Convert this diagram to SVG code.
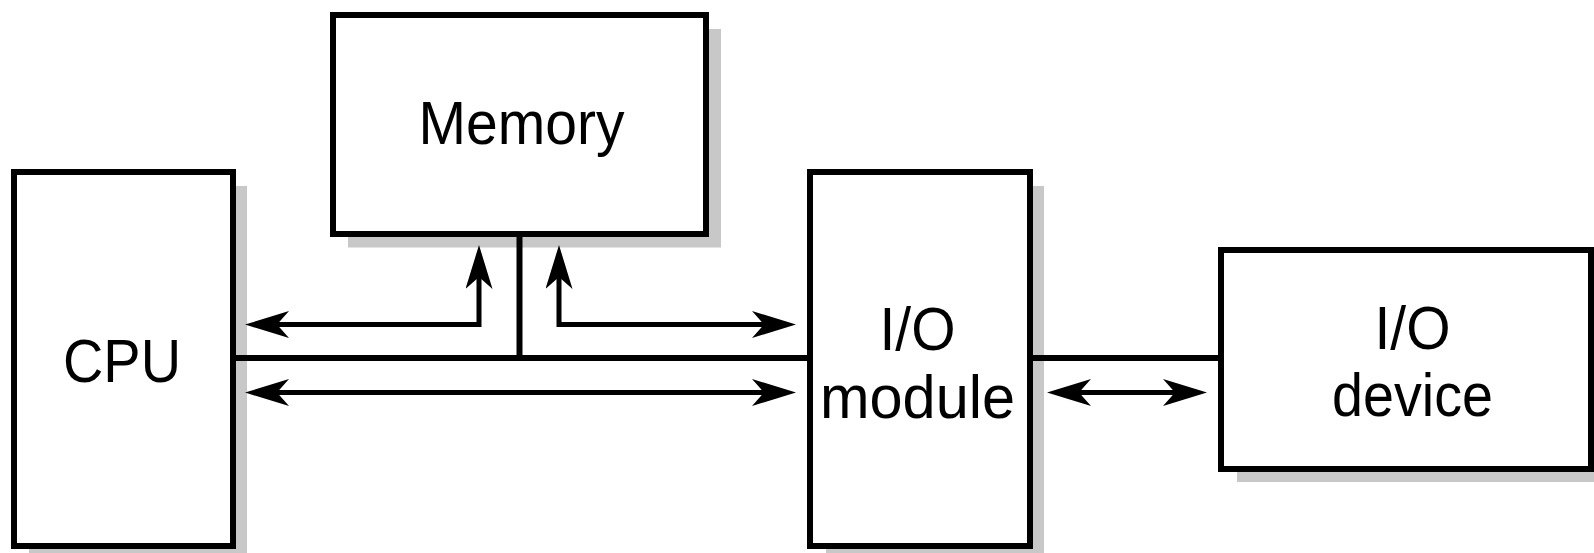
<svg xmlns="http://www.w3.org/2000/svg" width="1594" height="553" viewBox="0 0 1594 553">
<style>
.box{fill:#fff;stroke:#000;stroke-width:6}
.shadow{fill:#c8c8c8}
.lbl{font-family:"Liberation Sans",Arial,Helvetica,sans-serif;font-size:62px;fill:#000;text-anchor:middle}
.bus{fill:none;stroke:#000;stroke-width:6}
.arr{fill:none;stroke:#000;stroke-width:5;stroke-linejoin:miter;marker-start:url(#ah);marker-end:url(#ah)}
</style>
<defs>
<marker id="ah" viewBox="0 0 44 27" refX="14" refY="13.5" markerWidth="44" markerHeight="27" markerUnits="userSpaceOnUse" orient="auto-start-reverse">
<path d="M44,13.5 L0,0 L12,13.5 L0,27 Z" fill="#000"/>
</marker>
</defs>
<rect width="1594" height="553" fill="#fff"/>
<g id="cpu">
<rect class="shadow" x="29" y="186" width="218" height="374"/>
<rect class="box" x="14" y="172" width="219" height="374"/>
<text class="lbl" x="122" y="382" textLength="118" lengthAdjust="spacingAndGlyphs">CPU</text>
</g>
<g id="memory">
<rect class="shadow" x="348" y="29" width="373" height="218.5"/>
<rect class="box" x="333" y="15" width="373" height="219"/>
<text class="lbl" x="521.5" y="143.5" textLength="206" lengthAdjust="spacingAndGlyphs">Memory</text>
</g>
<g id="io-module">
<rect class="shadow" x="826" y="186" width="218" height="374"/>
<rect class="box" x="810" y="172" width="220" height="374"/>
<text class="lbl" x="917.5" y="349.5" textLength="76" lengthAdjust="spacingAndGlyphs">I/O</text>
<text class="lbl" x="917.5" y="418" textLength="195" lengthAdjust="spacingAndGlyphs">module</text>
</g>
<g id="io-device">
<rect class="shadow" x="1237" y="264" width="363" height="218"/>
<rect class="box" x="1221" y="250" width="370" height="219"/>
<text class="lbl" x="1412.5" y="349" textLength="76" lengthAdjust="spacingAndGlyphs">I/O</text>
<text class="lbl" x="1412.5" y="416" textLength="161" lengthAdjust="spacingAndGlyphs">device</text>
</g>
<g id="connectors">
<path class="bus" d="M236,358 H807"/>
<path class="bus" d="M519.5,237 V358"/>
<path class="bus" d="M1033,358 H1218"/>
<path class="arr" d="M275,324.5 H479 V275"/>
<path class="arr" d="M559,275 V324.5 H766"/>
<path class="arr" d="M275,392.5 H766"/>
<path class="arr" d="M1077,392.5 H1177"/>
</g>
</svg>
